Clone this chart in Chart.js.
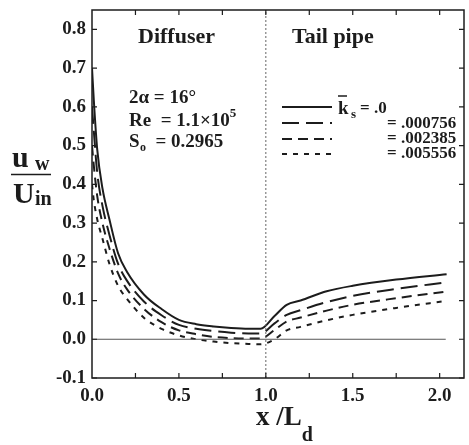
<!DOCTYPE html>
<html>
<head>
<meta charset="utf-8">
<script src="https://cdn.jsdelivr.net/npm/chart.js@4"></script>
<style>
    html, body { margin: 0; padding: 0; background: #fff; }
    #wrap { width: 469px; height: 445px; }
</style>
</head>
<body>
<div id="wrap"><canvas id="chart"></canvas></div>
<script>
// x / L_d positions shared by all curves
var xPos = [0, 0.01, 0.03, 0.06, 0.1, 0.15, 0.2, 0.3, 0.4, 0.5, 0.6, 0.7, 0.8, 0.9, 0.97, 1.05, 1.12, 1.2, 1.35, 1.5, 1.75, 2.04];

// u_w / U_in for each roughness value
var uKs0      = [0.70, 0.62, 0.49, 0.39, 0.31, 0.222, 0.175, 0.115, 0.078, 0.050, 0.039, 0.033, 0.029, 0.027, 0.027, 0.060, 0.089, 0.100, 0.124, 0.138, 0.154, 0.168];
var uKs000756 = [0.60, 0.54, 0.43, 0.345, 0.27, 0.195, 0.152, 0.097, 0.062, 0.037, 0.027, 0.021, 0.017, 0.015, 0.015, 0.041, 0.063, 0.075, 0.096, 0.112, 0.130, 0.147];
var uKs002385 = [0.50, 0.45, 0.37, 0.30, 0.235, 0.17, 0.13, 0.078, 0.044, 0.023, 0.013, 0.006, 0.003, 0.002, 0.002, 0.024, 0.046, 0.056, 0.074, 0.089, 0.106, 0.123];
var uKs005556 = [0.40, 0.36, 0.31, 0.26, 0.195, 0.138, 0.105, 0.055, 0.027, 0.010, 0.000, -0.006, -0.010, -0.012, -0.013, 0.000, 0.023, 0.032, 0.049, 0.063, 0.081, 0.099];

var seriesNames = ["= .0", "= .000756", "= .002385", "= .005556"];

// reference lines
var zeroLineX = [0, 2.035];
var zeroLineY = [0, 0];
var junctionX = [1.0, 1.0];
var junctionY = [-0.1, 0.85];

// tick labels and tick marks
var xTickLabels = [0.0, 0.5, 1.0, 1.5, 2.0];
var xTickMarks = [0.25, 0.5, 0.75, 1.0, 1.25, 1.5, 1.75, 2.0];
var yTickLabels = [-0.1, 0.0, 0.1, 0.2, 0.3, 0.4, 0.5, 0.6, 0.7, 0.8];

var ink = "#1c1c1c";
var serif = "'Liberation Serif', 'Times New Roman', serif";

function pts(xs, ys) {
    var out = [];
    for (var i = 0; i < xs.length; i++) out.push({x: xs[i], y: ys[i]});
    return out;
}

var dashes = [[], [17, 7], [10, 6], [5, 6]];
var curves = [uKs0, uKs000756, uKs002385, uKs005556];

var datasets = [];
datasets.push({
    label: "zero", data: pts(zeroLineX, zeroLineY),
    borderColor: "#555", borderWidth: 1, pointRadius: 0, fill: false
});
datasets.push({
    label: "junction", data: pts(junctionX, junctionY),
    borderColor: "#666", borderWidth: 1, borderDash: [2, 2], pointRadius: 0, fill: false
});
for (var c = 0; c < curves.length; c++) {
    datasets.push({
        label: seriesNames[c],
        data: pts(xPos, curves[c]),
        borderColor: ink,
        borderWidth: 2,
        borderDash: dashes[c],
        pointRadius: 0,
        fill: false,
        cubicInterpolationMode: "monotone"
    });
}

var decor = {
    id: "decor",
    afterDraw: function (chart) {
        var ctx = chart.ctx;
        var a = chart.chartArea;
        var xs = chart.scales.x, ys = chart.scales.y;
        ctx.save();

        // frame
        ctx.strokeStyle = ink;
        ctx.lineWidth = 1.5;
        ctx.strokeRect(a.left, a.top, a.right - a.left, a.bottom - a.top);

        // inward ticks
        ctx.lineWidth = 1.2;
        ctx.beginPath();
        xTickMarks.forEach(function (v) {
            var px = xs.getPixelForValue(v);
            ctx.moveTo(px, a.bottom); ctx.lineTo(px, a.bottom - 5);
            ctx.moveTo(px, a.top); ctx.lineTo(px, a.top + 5);
        });
        yTickLabels.forEach(function (v) {
            var py = ys.getPixelForValue(v);
            ctx.moveTo(a.left, py); ctx.lineTo(a.left + 5, py);
            ctx.moveTo(a.right, py); ctx.lineTo(a.right - 5, py);
        });
        ctx.stroke();

        ctx.fillStyle = ink;
        ctx.textBaseline = "alphabetic";
        ctx.textAlign = "left";

        // region labels
        ctx.font = "bold 22px " + serif;
        ctx.fillText("Diffuser", 138, 43);
        ctx.fillText("Tail pipe", 292, 43);

        // case parameters
        ctx.font = "bold 19px " + serif;
        ctx.fillText("2\u03b1 = 16\u00b0", 129, 103);
        ctx.fillText("Re  = 1.1\u00d710", 129, 126);
        var w = ctx.measureText("Re  = 1.1\u00d710").width;
        ctx.font = "bold 13px " + serif;
        ctx.fillText("5", 129 + w, 117);
        ctx.font = "bold 19px " + serif;
        ctx.fillText("S", 129, 147);
        ctx.font = "bold 12px " + serif;
        ctx.fillText("o", 140, 151);
        ctx.font = "bold 19px " + serif;
        ctx.fillText("  = 0.2965", 146, 147);

        // legend
        var ly = [107, 123, 139, 154];
        for (var i = 0; i < 4; i++) {
            ctx.beginPath();
            ctx.setLineDash(dashes[i]);
            ctx.lineWidth = 2;
            ctx.moveTo(282, ly[i]); ctx.lineTo(332, ly[i]);
            ctx.stroke();
        }
        ctx.setLineDash([]);
        ctx.font = "bold 19px " + serif;
        ctx.fillText("k", 338, 114);
        ctx.lineWidth = 1.5;
        ctx.beginPath(); ctx.moveTo(338, 96); ctx.lineTo(347, 96); ctx.stroke();
        ctx.font = "bold 13px " + serif;
        ctx.fillText("s", 351, 118);
        ctx.font = "bold 17px " + serif;
        ctx.fillText(seriesNames[0], 360, 113);
        ctx.fillText(seriesNames[1], 387, 128);
        ctx.fillText(seriesNames[2], 387, 143);
        ctx.fillText(seriesNames[3], 387, 158);

        // y axis title: u_w / U_in
        ctx.font = "bold 30px " + serif;
        ctx.fillText("u", 12, 167);
        ctx.font = "bold 20px " + serif;
        ctx.fillText("w", 35, 170);
        ctx.lineWidth = 1.5;
        ctx.beginPath(); ctx.moveTo(11, 174.5); ctx.lineTo(51, 174.5); ctx.stroke();
        ctx.font = "bold 30px " + serif;
        ctx.fillText("U", 13, 203);
        ctx.font = "bold 20px " + serif;
        ctx.fillText("in", 35, 205);

        // x axis title: x /L_d
        ctx.font = "bold 27px " + serif;
        ctx.fillText("x /L", 256, 425);
        var xw = ctx.measureText("x /L").width;
        ctx.font = "bold 20px " + serif;
        ctx.fillText("d", 256 + xw, 441);

        ctx.restore();
    }
};

new Chart(document.getElementById("chart"), {
    type: "line",
    data: { datasets: datasets },
    options: {
        responsive: true,
        maintainAspectRatio: false,
        animation: false,
        layout: { padding: { top: 10, right: 5, left: 0, bottom: 0 } },
        plugins: { legend: { display: false }, tooltip: { enabled: false } },
        scales: {
            x: {
                type: "linear", min: 0, max: 2.14,
                grid: { display: false, drawTicks: false },
                border: { display: false },
                ticks: {
                    padding: 7, color: ink,
                    font: { family: serif, size: 19, weight: "bold" },
                    callback: function (v) { return v.toFixed(1); }
                },
                afterBuildTicks: function (s) { s.ticks = xTickLabels.map(function (v) { return {value: v}; }); },
                afterFit: function (s) { s.height = 67; s.paddingLeft = 0; s.paddingRight = 0; }
            },
            y: {
                type: "linear", min: -0.1, max: 0.85,
                grid: { display: false, drawTicks: false },
                border: { display: false },
                ticks: {
                    padding: 6, color: ink,
                    font: { family: serif, size: 19, weight: "bold" },
                    callback: function (v) { return v.toFixed(1); }
                },
                afterBuildTicks: function (s) { s.ticks = yTickLabels.map(function (v) { return {value: v}; }); },
                afterFit: function (s) { s.width = 92; s.paddingTop = 0; s.paddingBottom = 0; }
            }
        }
    },
    plugins: [decor]
});
</script>
</body>
</html>
